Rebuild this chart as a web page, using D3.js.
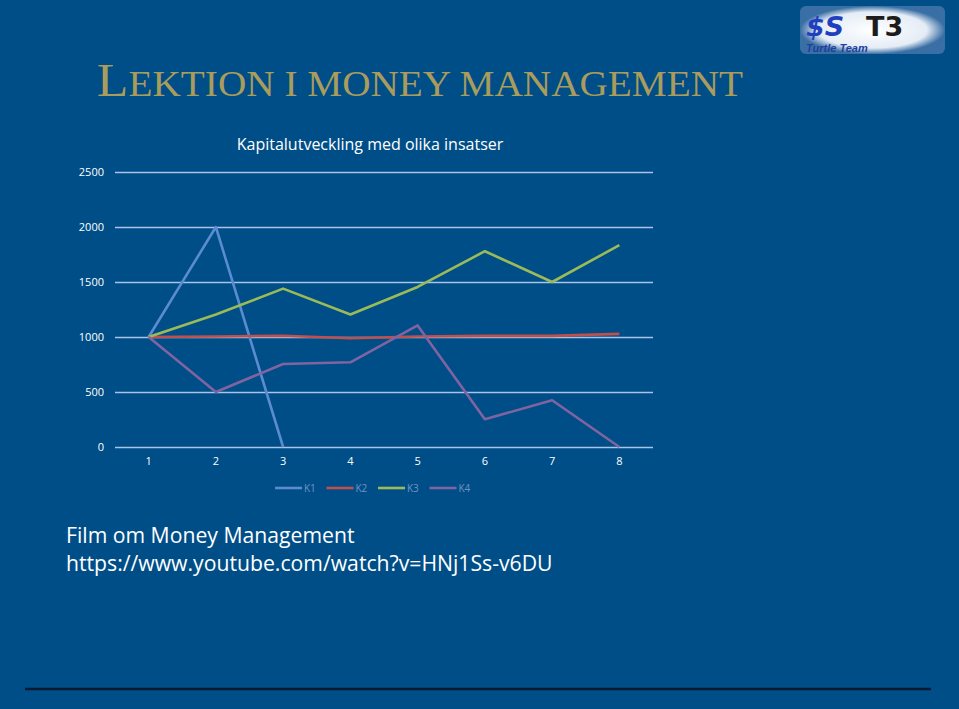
<html>
<script src="https://d3js.org/d3.v7.min.js"></script>
<style>
body { margin: 0; background: #004e87; }
svg { display: block; }
</style>
<body>
<svg width="959" height="709"></svg>
<script>
// chart data
const categories = ["1", "2", "3", "4", "5", "6", "7", "8"];
const seriesNames = ["K1", "K2", "K3", "K4"];
const k1 = [1000, 2000, 0, null, null, null, null, null];
const k2 = [1000, 1005, 1012, 988, 1005, 1010, 1010, 1028];
const k3 = [1000, 1205, 1440, 1205, 1455, 1780, 1500, 1835];
const k4 = [1000, 500, 755, 770, 1105, 252, 425, 0];
const yTicks = [0, 500, 1000, 1500, 2000, 2500];
const colors = ["#5b8bd0", "#c0504d", "#9bbb59", "#8064a2"];

const svg = d3.select("svg");
svg.append("rect").attr("width", 959).attr("height", 709).attr("fill", "#004e87");

// slide heading (small caps look)
const head = svg.append("text")
  .attr("x", 97).attr("y", 96)
  .attr("textLength", 646).attr("lengthAdjust", "spacingAndGlyphs")
  .style("font-family", "'Liberation Serif', serif")
  .style("fill", "#a99c5c");
head.append("tspan").style("font-size", "46px").text("L");
head.append("tspan").style("font-size", "35px").text("EKTION I MONEY MANAGEMENT");

// logo
const logo = svg.append("g").attr("transform", "translate(800,6)");
const glow = svg.append("defs").append("radialGradient").attr("id", "glow");
glow.append("stop").attr("offset", "0%").attr("stop-color", "#ffffff");
glow.append("stop").attr("offset", "75%").attr("stop-color", "#e4ecf5");
glow.append("stop").attr("offset", "100%").attr("stop-color", "#3a6fa5");
logo.append("rect").attr("width", 145).attr("height", 48).attr("rx", 6).attr("fill", "url(#glow)");
logo.append("text").attr("x", 6).attr("y", 30)
  .style("font-family", "'DejaVu Sans', sans-serif").style("font-weight", "bold")
  .style("font-style", "italic").style("font-size", "27px").style("fill", "#1f3fbf")
  .text("$S");
logo.append("text").attr("x", 66).attr("y", 30)
  .style("font-family", "'DejaVu Sans', sans-serif").style("font-weight", "bold")
  .style("font-size", "27px").style("fill", "#1c1c1c")
  .text("T3");
logo.append("text").attr("x", 6).attr("y", 46)
  .style("font-family", "'Liberation Sans', sans-serif").style("font-weight", "bold")
  .style("font-style", "italic").style("font-size", "11px").style("fill", "#1f3f9f")
  .text("Turtle Team");

// chart
const x = d3.scaleBand().domain(categories).range([115, 653]);
const y = d3.scaleLinear().domain([0, 2500]).range([447, 172]);

svg.append("text")
  .attr("x", 370).attr("y", 150).attr("text-anchor", "middle")
  .style("font-family", "'Open Sans', sans-serif").style("font-size", "16px")
  .style("fill", "#ffffff")
  .text("Kapitalutveckling med olika insatser");

const yAxis = svg.append("g")
  .attr("transform", "translate(115,0)")
  .call(d3.axisLeft(y).tickValues(yTicks).tickFormat(d3.format("d")).tickSize(-538).tickPadding(11));
yAxis.select(".domain").remove();
yAxis.selectAll("line").attr("stroke", "#a9c4e6").attr("stroke-width", 1.3);
yAxis.selectAll("text").attr("fill", "#ffffff")
  .style("font-family", "'Open Sans', sans-serif").style("font-size", "11px");

const xAxis = svg.append("g")
  .attr("transform", "translate(0,447)")
  .call(d3.axisBottom(x).tickSize(0).tickPadding(10));
xAxis.select(".domain").remove();
xAxis.selectAll("text").attr("fill", "#ffffff")
  .style("font-family", "'Open Sans', sans-serif").style("font-size", "11px");

const line = d3.line()
  .defined(d => d != null)
  .x((d, i) => x(categories[i]) + x.bandwidth() / 2)
  .y(d => y(d));

[k1, k2, k3, k4].forEach((s, i) => {
  svg.append("path").datum(s)
    .attr("d", line)
    .attr("fill", "none")
    .attr("stroke", colors[i])
    .attr("stroke-width", 2.6)
    .attr("stroke-linejoin", "round");
});

// legend
const leg = svg.append("g").attr("transform", "translate(275,488)");
seriesNames.forEach((n, i) => {
  const g = leg.append("g").attr("transform", `translate(${i * 51.5},0)`);
  g.append("line").attr("x1", 0).attr("x2", 27).attr("y1", 0).attr("y2", 0)
    .attr("stroke", colors[i]).attr("stroke-width", 2.6);
  g.append("text").attr("x", 29).attr("y", 4)
    .style("font-family", "'Open Sans', sans-serif").style("font-size", "10px")
    .style("fill", "#6f93c4").text(n);
});

// footer text
svg.append("text").attr("x", 66).attr("y", 543)
  .style("font-family", "'Open Sans', sans-serif").style("font-size", "21.2px")
  .style("fill", "#ffffff").text("Film om Money Management");
svg.append("text").attr("x", 66).attr("y", 571)
  .style("font-family", "'Open Sans', sans-serif").style("font-size", "21.2px")
  .style("fill", "#ffffff").text("https://www.youtube.com/watch?v=HNj1Ss-v6DU");

svg.append("line").attr("x1", 25).attr("x2", 931).attr("y1", 689).attr("y2", 689)
  .attr("stroke", "#0a1a33").attr("stroke-width", 2.5);
</script>
</body>
</html>
